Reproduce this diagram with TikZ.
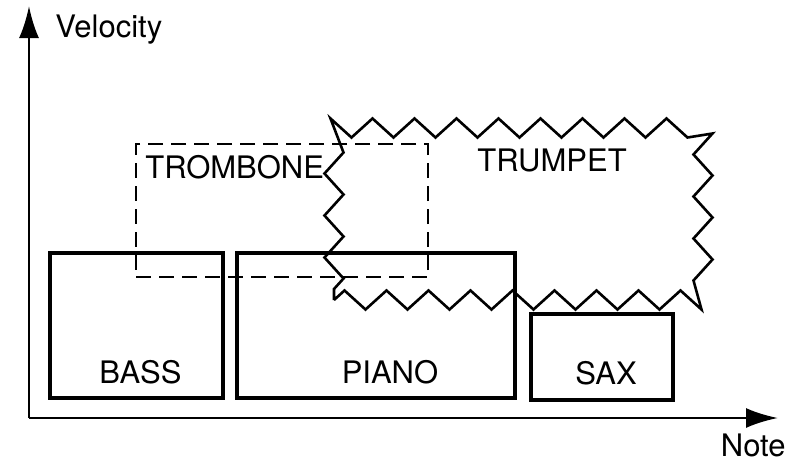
\documentclass[tikz,border=0pt]{standalone}
\usepackage{fontspec}
\setmainfont{TeX Gyre Heros}
\usetikzlibrary{arrows.meta,positioning,decorations.pathmorphing}

\begin{document}
\begin{tikzpicture}[x=0.5pt,y=-0.5pt,font=\fontsize{15.5}{18}\selectfont,
  instr/.style={draw,line width=1.8pt,inner sep=0pt},
  axis/.style={line width=1.4pt,-{Latex[length=16pt,width=10pt]}},
  lbl/.style={inner sep=0pt}]
\useasboundingbox (0,0) rectangle (788,461);
% axes
\coordinate (origin) at (29,418);
\coordinate (ytip) at (29,6);
\coordinate (xtip) at (778,418);
\draw[axis] (origin) -- (ytip);
\draw[axis] (origin) -- (xtip);
\node[lbl,anchor=base west] (vel) at (55,37) {Velocity};
\node[lbl,anchor=base east] (note) at (786,456) {Note};
% overlapping ranges
\node[instr,dashed,dash pattern=on 7.5pt off 4pt,line width=1.1pt,minimum width=146pt,minimum height=66.5pt] (trombone) at (282,210.5) {};
\node[lbl,anchor=west] (tromlbl) at (145,167) {TROMBONE};
\node[instr,line width=1.3pt,decorate,decoration={zigzag,amplitude=4.75pt,segment length=21pt},minimum width=184.5pt,minimum height=86pt] (trumpet) at (518.5,214) {};
\node[lbl] (trumlbl) at (552,160) {TRUMPET};
% solid ranges
\node[instr,minimum width=86.5pt,minimum height=72.5pt] (bass) at (136.5,325.5) {};
\node[lbl,above=7.5pt of bass.south,xshift=2pt] (basslbl) {BASS};
\node[instr,minimum width=139pt,minimum height=72.5pt] (piano) at (376,325.5) {};
\node[lbl,above=7.5pt of piano.south,xshift=7pt] (pianolbl) {PIANO};
\node[instr,minimum width=71pt,minimum height=43pt] (sax) at (602,357) {};
\node[lbl,above=8pt of sax.south,xshift=2pt] (saxlbl) {SAX};
\end{tikzpicture}
\end{document}
